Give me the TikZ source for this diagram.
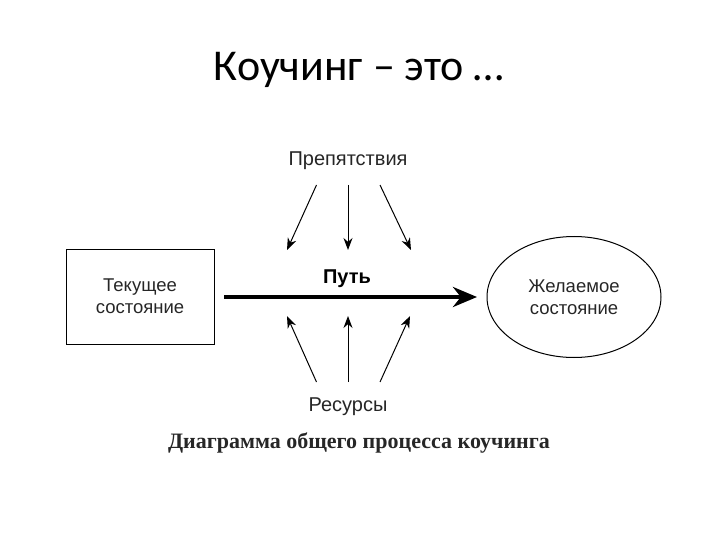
\documentclass[tikz,border=0pt]{standalone}
\usepackage{fontspec}
\setmainfont{Liberation Sans}
\newfontfamily\titlefont{Carlito}
\newfontfamily\capfont{Liberation Serif}
\usetikzlibrary{arrows.meta,shapes.geometric}
\begin{document}
\begin{tikzpicture}[x=1pt,y=-1pt,
  lbl/.style={font=\fontsize{20}{22}\selectfont, text=black!85},
  thin arr/.style={-{Stealth[length=12pt,width=9pt]}, line width=1pt},
  state/.style={draw, line width=1pt, align=center, font=\fontsize{18.5}{22}\selectfont, text=black!85}]
\useasboundingbox (0,0) rectangle (720,540);
\node[font=\titlefont\fontsize{44}{48}\selectfont] (title) at (359,70) {Коучинг – это …};
\node[state, minimum width=148pt, minimum height=95pt, inner sep=0pt] (cur) at (140,296.5) {Текущее\\состояние};
\node[state, ellipse, minimum width=174pt, minimum height=121pt, inner sep=0pt] (goal) at (574,297) {Желаемое\\состояние};
\coordinate (ps) at (224,297);
\coordinate (pe) at (477,297);
\draw[line width=4pt, -{Stealth[length=24pt,width=20pt]}] (ps) -- (pe);
\node[font=\bfseries\fontsize{20}{22}\selectfont] (path) at (347,279) {Путь};
\node[lbl] (obs) at (348,161) {Препятствия};
\node[lbl] (res) at (348,407) {Ресурсы};
\coordinate (o1s) at (316.5,185); \coordinate (o1e) at (287,250);
\coordinate (o2s) at (348,185);   \coordinate (o2e) at (348,250);
\coordinate (o3s) at (380,185);   \coordinate (o3e) at (411,250);
\draw[thin arr] (o1s) -- (o1e);
\draw[thin arr] (o2s) -- (o2e);
\draw[thin arr] (o3s) -- (o3e);
\coordinate (r1s) at (316.5,382); \coordinate (r1e) at (287,316);
\coordinate (r2s) at (348,382);   \coordinate (r2e) at (348,316);
\coordinate (r3s) at (380,382);   \coordinate (r3e) at (410,316);
\draw[thin arr] (r1s) -- (r1e);
\draw[thin arr] (r2s) -- (r2e);
\draw[thin arr] (r3s) -- (r3e);
\node[font=\capfont\bfseries\fontsize{22}{24}\selectfont, text=black!85] (cap) at (359,443) {Диаграмма общего процесса коучинга};
\end{tikzpicture}
\end{document}
